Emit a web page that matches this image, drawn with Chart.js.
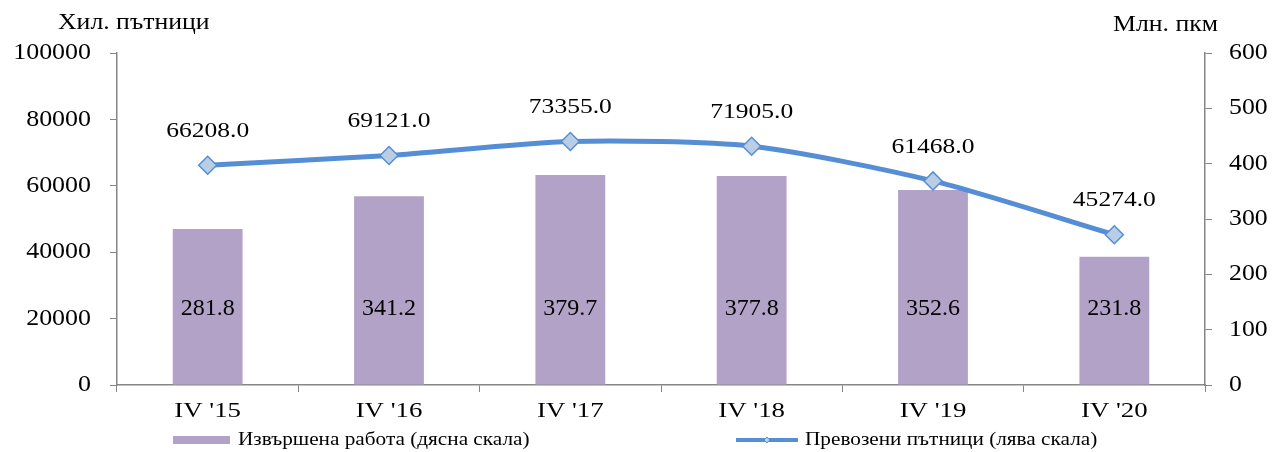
<!DOCTYPE html>
<html>
<head>
<meta charset="utf-8">
<script src="https://cdn.jsdelivr.net/npm/chart.js@4"></script>
<style>
  html, body { margin: 0; padding: 0; background: #fff; }
  #wrap { width: 1274px; height: 452px; position: relative; }
</style>
</head>
<body>
<div id="wrap"><canvas id="chart" width="1274" height="452"></canvas></div>
<script>
//data
const categories = ["IV '15", "IV '16", "IV '17", "IV '18", "IV '19", "IV '20"];
const workDone = [281.8, 341.2, 379.7, 377.8, 352.6, 231.8];           // right scale, млн. пкм
const passengers = [66208, 69121, 73355, 71905, 61468, 45274];         // left scale, хил. пътници
const leftTicks = [0, 20000, 40000, 60000, 80000, 100000];
const rightTicks = [0, 100, 200, 300, 400, 500, 600];

const barLabel = 'Извършена работа (дясна скала)';
const lineLabel = 'Превозени пътници (лява скала)';

const FONT = '"Liberation Serif", "Times New Roman", serif';
const barColor = '#B3A2C7';
const lineColor = '#558ED5';
const markerFill = '#B9CDE5';
const axisColor = '#868686';

//text is a bit wider in the original, so stretch it horizontally
function drawText(ctx, text, x, y, align, size, sx) {
    ctx.save();
    ctx.font = size + 'px ' + FONT;
    ctx.textAlign = align;
    ctx.textBaseline = 'middle';
    ctx.fillStyle = '#000';
    ctx.translate(x, y);
    ctx.scale(sx, 1);
    ctx.fillText(text, 0, 0);
    ctx.restore();
}

//draws tick labels, values, axis titles and the legend
const extras = {
    id: 'extras',
    afterDatasetsDraw(chart) {
        const ctx = chart.ctx;

        //tick labels
        const yl = chart.scales.yLeft;
        leftTicks.forEach(v => drawText(ctx, String(v), 91, yl.getPixelForValue(v), 'right', 24, 1.08));
        const yr = chart.scales.yRight;
        rightTicks.forEach(v => drawText(ctx, String(v), 1229, yr.getPixelForValue(v), 'left', 23, 1.12));
        const xs = chart.scales.x;
        categories.forEach((c, i) => drawText(ctx, c, xs.getPixelForValue(i), 411, 'center', 22, 1.22));

        //bar values, low inside each bar
        chart.getDatasetMeta(0).data.forEach((bar, i) => {
            drawText(ctx, workDone[i].toFixed(1), bar.x, bar.base - 76, 'center', 24, 1.0);
        });

        //line values above each point
        chart.getDatasetMeta(1).data.forEach((pt, i) => {
            drawText(ctx, passengers[i].toFixed(1), pt.x, pt.y - 34, 'center', 22, 1.16);
        });

        //axis titles
        drawText(ctx, 'Хил. пътници', 58, 23, 'left', 23, 1.12);
        drawText(ctx, 'Млн. пкм', 1218, 25, 'right', 23, 1.12);

        //legend
        const ly = 440;
        ctx.save();
        ctx.fillStyle = barColor;
        ctx.fillRect(173, ly - 4, 57, 8);
        ctx.strokeStyle = lineColor;
        ctx.lineWidth = 4;
        ctx.beginPath();
        ctx.moveTo(736, ly);
        ctx.lineTo(798, ly);
        ctx.stroke();
        ctx.fillStyle = markerFill;
        ctx.lineWidth = 1;
        ctx.beginPath();
        ctx.moveTo(767, ly - 3);
        ctx.lineTo(770, ly);
        ctx.lineTo(767, ly + 3);
        ctx.lineTo(764, ly);
        ctx.closePath();
        ctx.fill();
        ctx.stroke();
        ctx.restore();
        drawText(ctx, barLabel, 238, ly, 'left', 18, 1.18);
        drawText(ctx, lineLabel, 805, ly, 'left', 18, 1.18);
    }
};

const ctx = document.getElementById('chart');

new Chart(ctx, {
    type: 'bar',
    data: {
        labels: categories,
        datasets: [{
            type: 'bar',
            label: barLabel,
            data: workDone,
            yAxisID: 'yRight',
            backgroundColor: barColor,
            barPercentage: 0.385,
            categoryPercentage: 1,
            order: 2
        },
        {
            type: 'line',
            label: lineLabel,
            data: passengers,
            yAxisID: 'yLeft',
            borderColor: lineColor,
            borderWidth: 5,
            pointStyle: 'rectRot',
            pointRadius: 9,
            pointBackgroundColor: markerFill,
            pointBorderColor: lineColor,
            pointBorderWidth: 1.5,
            tension: 0.25,
            order: 1
        }]
    },
    plugins: [extras],
    options: {
        responsive: false,
        animation: false,
        layout: { padding: { top: 53, left: 0, right: 0, bottom: 0 } },
        plugins: {
            legend: { display: false },
            tooltip: { enabled: false }
        },
        scales: {
            x: {
                offset: true,
                grid: {
                    offset: true,
                    drawOnChartArea: false,
                    tickLength: 7,
                    color: axisColor
                },
                border: { color: axisColor, width: 1.5 },
                ticks: { display: false },
                afterFit(scale) { scale.height = 67; }
            },
            yLeft: {
                position: 'left',
                min: 0,
                max: 100000,
                afterBuildTicks(scale) { scale.ticks = leftTicks.map(v => ({ value: v })); },
                grid: { drawOnChartArea: false, tickLength: 7, color: axisColor },
                border: { color: axisColor, width: 1.5 },
                ticks: { display: false },
                afterFit(scale) { scale.width = 117; }
            },
            yRight: {
                position: 'right',
                min: 0,
                max: 600,
                afterBuildTicks(scale) { scale.ticks = rightTicks.map(v => ({ value: v })); },
                grid: { drawOnChartArea: false, tickLength: 7, color: axisColor },
                border: { color: axisColor, width: 1.5 },
                ticks: { display: false },
                afterFit(scale) { scale.width = 69; }
            }
        }
    }
});
</script>
</body>
</html>
